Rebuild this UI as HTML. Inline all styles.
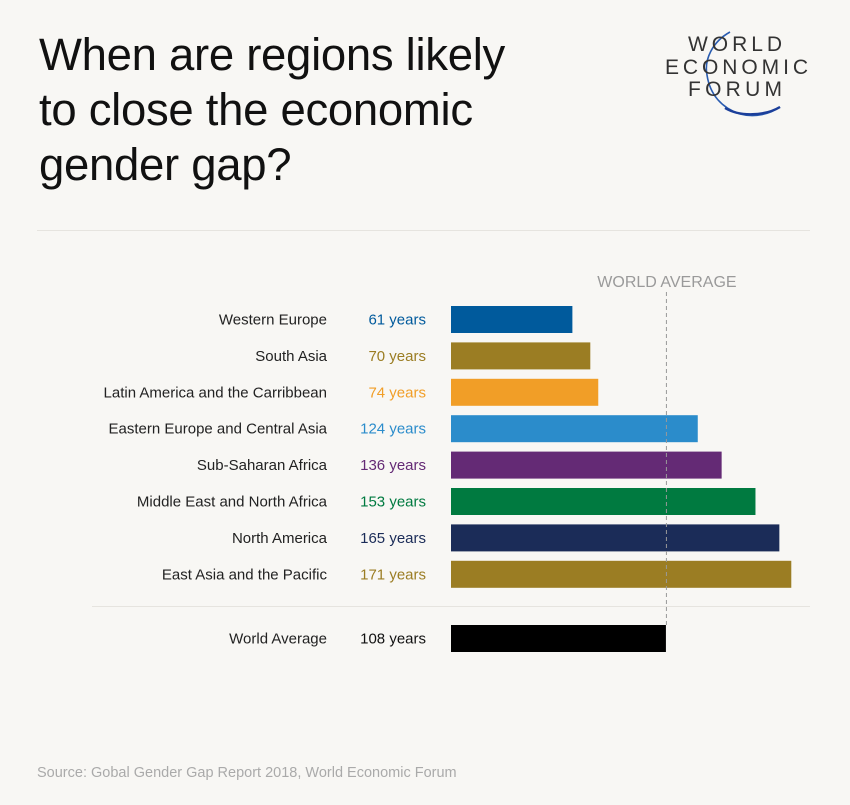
<!DOCTYPE html>
<html><head><meta charset="utf-8"><style>
body{margin:0;background:#f8f7f4;font-family:"Liberation Sans",sans-serif}
#wrap{position:relative;width:850px;height:805px;overflow:hidden;background:#f8f7f4}
h1{position:absolute;left:39px;top:27px;margin:0;font-weight:normal;font-size:45.5px;line-height:55px;color:#111;letter-spacing:-0.3px}
.src{position:absolute;left:37px;top:765px;font-size:14.5px;color:#aaa}
</style></head><body>
<div id="wrap">
<h1>When are regions likely<br>to close the economic<br>gender gap?</h1>
<svg style="position:absolute;left:640px;top:20px" width="200" height="110">
<path d="M90 12 C72 22 64 40 67 55 C70 75 82 88 100 94 C115 98 130 94 140 87" fill="none" stroke="#2a5cb0" stroke-width="1.6"/>
<path d="M85 88 C100 97 125 96 140 87" fill="none" stroke="#1c3f9a" stroke-width="2.4"/>
<text x="48" y="31" textLength="94" lengthAdjust="spacing" font-size="21" fill="#333" font-family="Liberation Sans">WORLD</text>
<text x="25" y="54" textLength="143" lengthAdjust="spacing" font-size="21" fill="#333" font-family="Liberation Sans">ECONOMIC</text>
<text x="48" y="76" textLength="94" lengthAdjust="spacing" font-size="21" fill="#333" font-family="Liberation Sans">FORUM</text>
</svg>
<svg id="chart" width="850" height="805" style="position:absolute;left:0;top:0">
<line x1="37" y1="230.5" x2="810" y2="230.5" stroke="#e6e4df"/>
</svg>
<div class="src">Source: Gobal Gender Gap Report 2018, World Economic Forum</div>
</div>
<script>
const categories=["Western Europe","South Asia","Latin America and the Carribbean","Eastern Europe and Central Asia","Sub-Saharan Africa","Middle East and North Africa","North America","East Asia and the Pacific"];
const years=[61,70,74,124,136,153,165,171];
const colors=["#005a9c","#9b7d23","#f19e27","#2b8ccb","#642a75","#007a40","#1b2c58","#9b7d23"];
const worldLabel="World Average";
const worldValue=108;
const NS="http://www.w3.org/2000/svg";
const svg=document.getElementById('chart');
const x0=451,k=1.99;
const xs=v=>x0+v*k;
const ys=i=>306+i*36.4;
function mk(t,a){const e=document.createElementNS(NS,t);for(const n in a)e.setAttribute(n,a[n]);svg.appendChild(e);return e;}
function row(label,val,y,color,vcol,i){
 const b=mk('rect',{x:x0,y:y,width:xs(val)-x0,height:27,fill:color});
 
 
 const l=mk('text',{x:327,y:y+18.5,'text-anchor':'end','font-size':15,fill:'#222'});l.textContent=label;
 
 
 const v=mk('text',{x:426,y:y+18.5,'text-anchor':'end','font-size':15,fill:vcol});v.textContent=val+' years';
 
 
}
categories.forEach((c,i)=>row(c,years[i],ys(i),colors[i],colors[i],i));
const sep=mk('line',{x1:92,y1:606.5,x2:810,y2:606.5,stroke:'#e6e4df'});


row(worldLabel,worldValue,625,'#000','#111','world');
const dl=mk('line',{x1:xs(worldValue)+0.5,y1:292,x2:xs(worldValue)+0.5,y2:625,stroke:'#999','stroke-dasharray':'4,3','stroke-width':1});


const wt=mk('text',{x:xs(worldValue)+1,y:287,'text-anchor':'middle','font-size':16,fill:'#9a9a9a'});wt.textContent='WORLD AVERAGE';


</script>
</body></html>
